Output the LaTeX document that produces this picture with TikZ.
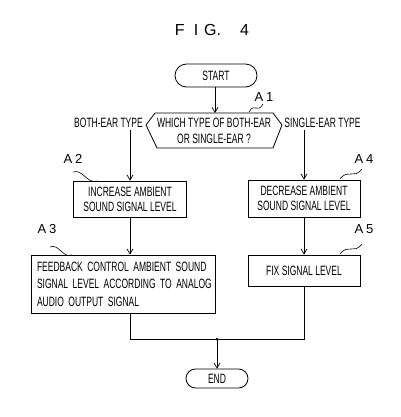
\documentclass[tikz,border=0pt]{standalone}
\usepackage{fontspec}
\setmainfont{Liberation Sans}[FakeStretch=0.63]
\newfontfamily\titlefont{Liberation Sans}
\usetikzlibrary{arrows.meta,shapes.misc,calc}
\begin{document}
\begin{tikzpicture}[x=1pt,y=-1pt,
  every node/.style={font=\fontsize{13.5}{15}\selectfont, inner sep=0pt},
  procbox/.style={draw, line width=0.8pt, align=center},
  termbox/.style={draw, line width=0.8pt, rounded rectangle},
  steplabel/.style={font=\titlefont\fontsize{13}{12}\selectfont},
  flow/.style={line width=0.7pt, -{Straight Barb[length=5pt,width=6pt]}},
  plain/.style={line width=0.7pt},
  wave/.style={line width=0.6pt}]
\useasboundingbox (0,0) rectangle (400,417);
\fill[white] (0,0) rectangle (400,417);

% title
\node[font=\titlefont\fontsize{16}{16}\selectfont] (title) at (212,30) {F\hspace{9pt}I\hspace{6pt}G.\hspace{19pt}4};

% start / end
\node[termbox, minimum width=82pt, minimum height=23pt] (start) at (216,75.5) {START};
\node[termbox, minimum width=62pt, minimum height=19pt] (end) at (217,378.5) {END};

% decision hexagon
\coordinate (h1) at (155,113);
\coordinate (h2) at (273,113);
\coordinate (h3) at (282,125);
\coordinate (h4) at (273,148);
\coordinate (h5) at (157,148);
\coordinate (h6) at (146,125);
\draw[line width=0.8pt] (h1) -- (h2) -- (h3) -- (h4) -- (h5) -- (h6) -- cycle;
\node[align=center, font=\fontsize{13.5}{16}\selectfont] (q) at (214,130.5) {WHICH TYPE OF BOTH-EAR\\OR SINGLE-EAR ?};
\coordinate (qtop) at (215,113);

\node (both) at (108.5,123) {BOTH-EAR TYPE};
\node (single) at (322.5,123) {SINGLE-EAR TYPE};

% process boxes
\node[procbox, minimum width=113pt, minimum height=36pt] (a2) at (130,199) {INCREASE AMBIENT\\SOUND SIGNAL LEVEL};
\node[procbox, minimum width=112pt, minimum height=37pt] (a4) at (304,198.5) {DECREASE AMBIENT\\SOUND SIGNAL LEVEL};
\node[procbox, align=left, text width=172pt, inner xsep=6pt, minimum height=58pt, font=\fontsize{13.5}{17.5}\selectfont] (a3) at (123,284) {\mbox{FEEDBACK CONTROL AMBIENT SOUND}\\\mbox{SIGNAL LEVEL ACCORDING TO ANALOG}\\\mbox{AUDIO OUTPUT SIGNAL}};
\node[procbox, minimum width=112pt, minimum height=31pt] (a5) at (304,270.5) {FIX SIGNAL LEVEL};

% step labels
\node[steplabel] (l1) at (264,97) {A\hspace{3pt}1};
\node[steplabel] (l2) at (73,159) {A\hspace{3pt}2};
\node[steplabel] (l3) at (47,229) {A\hspace{3pt}3};
\node[steplabel] (l4) at (364,159) {A\hspace{3pt}4};
\node[steplabel] (l5) at (364,229) {A\hspace{3pt}5};

% squiggles
\coordinate (w1a) at (249,112); \coordinate (w1b) at (263,104);
\coordinate (w2a) at (73,172);  \coordinate (w2b) at (97,181);
\coordinate (w3a) at (50,247);  \coordinate (w3b) at (72,255);
\coordinate (w4a) at (340,179); \coordinate (w4b) at (362,169);
\coordinate (w5a) at (340,254); \coordinate (w5b) at (362,244);
\foreach \p/\q in {w1a/w1b,w2a/w2b,w3a/w3b,w4a/w4b,w5a/w5b}{
  \draw[wave] (\p) .. controls ($(\p)!0.4!(\q)+(0,-7)$) and ($(\p)!0.6!(\q)+(0,7)$) .. (\q);
}

% connectors
\draw[flow] (start.south -| qtop) -- (qtop);
\draw[flow] (a2.north |- both.south) ++(0,2) -- (a2.north);
\draw[flow] (a4.north |- single.south) ++(0,2) -- (a4.north);
\draw[flow] (a2.south) -- (a2.south |- a3.north);
\draw[flow] (a4.south) -- (a5.north);
\coordinate (j) at (217,339);
\draw[plain] (a2.south |- a3.south) |- (j);
\draw[plain] (a5.south) |- (j);
\fill (j) circle (1.5pt);
\draw[flow] (j) -- (end.north);
\end{tikzpicture}
\end{document}
